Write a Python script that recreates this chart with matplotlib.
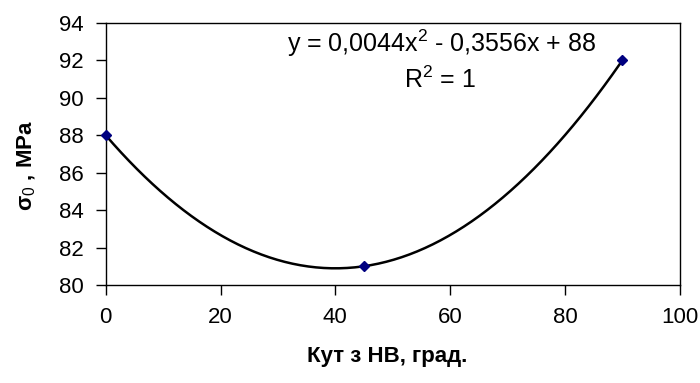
import numpy as np
import matplotlib.pyplot as plt

plt.rcParams['font.family'] = ['Liberation Sans', 'DejaVu Sans']
plt.rcParams['mathtext.fontset'] = 'custom'
plt.rcParams['mathtext.rm'] = 'Liberation Sans'

# data
angle = [0, 45, 90]
sigma0 = [88, 81, 92]
x_ticks = [0, 20, 40, 60, 80, 100]
y_ticks = [80, 82, 84, 86, 88, 90, 92, 94]

# second-order trendline (as Excel draws it)
coef = np.polyfit(angle, sigma0, 2)
xs = np.linspace(min(angle), max(angle), 200)
ys = np.polyval(coef, xs)

fig = plt.figure(figsize=(7, 3.83), dpi=100)
ax = fig.add_axes([0.151, 0.256, 0.820, 0.684])

ax.plot(xs, ys, color='black', lw=1.8, zorder=2)
ax.plot(angle, sigma0, 'D', color='#000080', ms=5, zorder=3, clip_on=False)

ax.set_xlim(0, 100)
ax.set_ylim(80, 94)
ax.set_xticks(x_ticks)
ax.set_yticks(y_ticks)
ax.tick_params(direction='out', length=7, width=1, labelsize=16)
ax.tick_params(axis='y', pad=9)
ax.tick_params(axis='x', pad=9)
for s in ax.spines.values():
    s.set_linewidth(1)

ax.set_xlabel('Кут з НВ, град.', fontsize=16, fontweight='bold', va='center')
ax.xaxis.set_label_coords(0.491, -0.275)
ax.set_ylabel('σ$_0$ , MPa', fontsize=16, fontweight='bold', va='center')
ax.yaxis.set_label_coords(-0.138, 0.458)

ax.text(0.585, 0.924, 'y = 0,0044x$^2$ - 0,3556x + 88',
        transform=ax.transAxes, ha='center', va='center', fontsize=18)
ax.text(0.583, 0.782, 'R$^2$ = 1',
        transform=ax.transAxes, ha='center', va='center', fontsize=18)

fig.savefig('out.png', dpi=100)
